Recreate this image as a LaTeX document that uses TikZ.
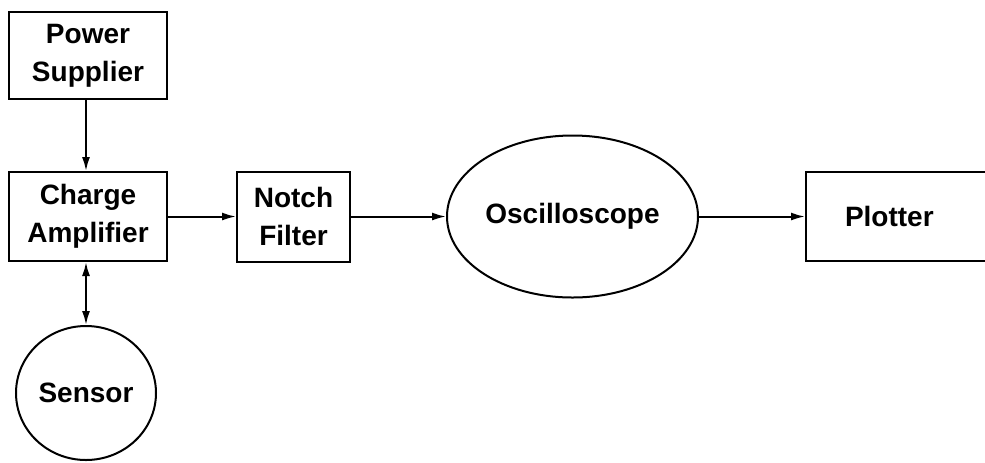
\documentclass[tikz,border=0pt]{standalone}
\usepackage{fontspec}
\setmainfont{Liberation Sans}
\usetikzlibrary{shapes.geometric,arrows.meta}

\begin{document}
\begin{tikzpicture}[x=0.5pt,y=-0.5pt,
    font=\fontsize{14}{19}\selectfont\bfseries,
    line width=1pt,
    block/.style={draw,rectangle,inner sep=0pt,align=center},
    unit/.style={draw,ellipse,inner sep=0pt,align=center},
    tip/.tip={Latex[length=7pt,width=4pt]},
    sig/.style={-tip}]
    \clip (0,0) rectangle (985,462);
    \node[block,minimum width=79pt,minimum height=43.5pt] (power) at (88,55.5) {Power\\Supplier};
    \node[block,minimum width=79pt,minimum height=44.5pt] (charge) at (88,216.5) {Charge\\Amplifier};
    \node[block,minimum width=56.5pt,minimum height=45pt] (notch) at (293.5,216.5) {Notch\\Filter};
    \node[unit,minimum width=125.5pt,minimum height=81pt] (scope) at (572.5,216.5) {Oscilloscope};
    \node[block,minimum width=97pt,minimum height=44.5pt,text width=88pt,align=left] (plotter) at (903,216.5) {\hspace{15pt}Plotter};
    \node[unit,minimum width=70pt,minimum height=67pt] (sensor) at (86,393) {Sensor};
    \draw[sig] (power.south -| sensor) -- (charge.north -| sensor);
    \draw[tip-tip] (charge.south -| sensor) -- (sensor);
    \draw[sig] (charge) -- (notch);
    \draw[sig] (notch) -- (scope);
    \draw[sig] (scope) -- (plotter);
\end{tikzpicture}
\end{document}
